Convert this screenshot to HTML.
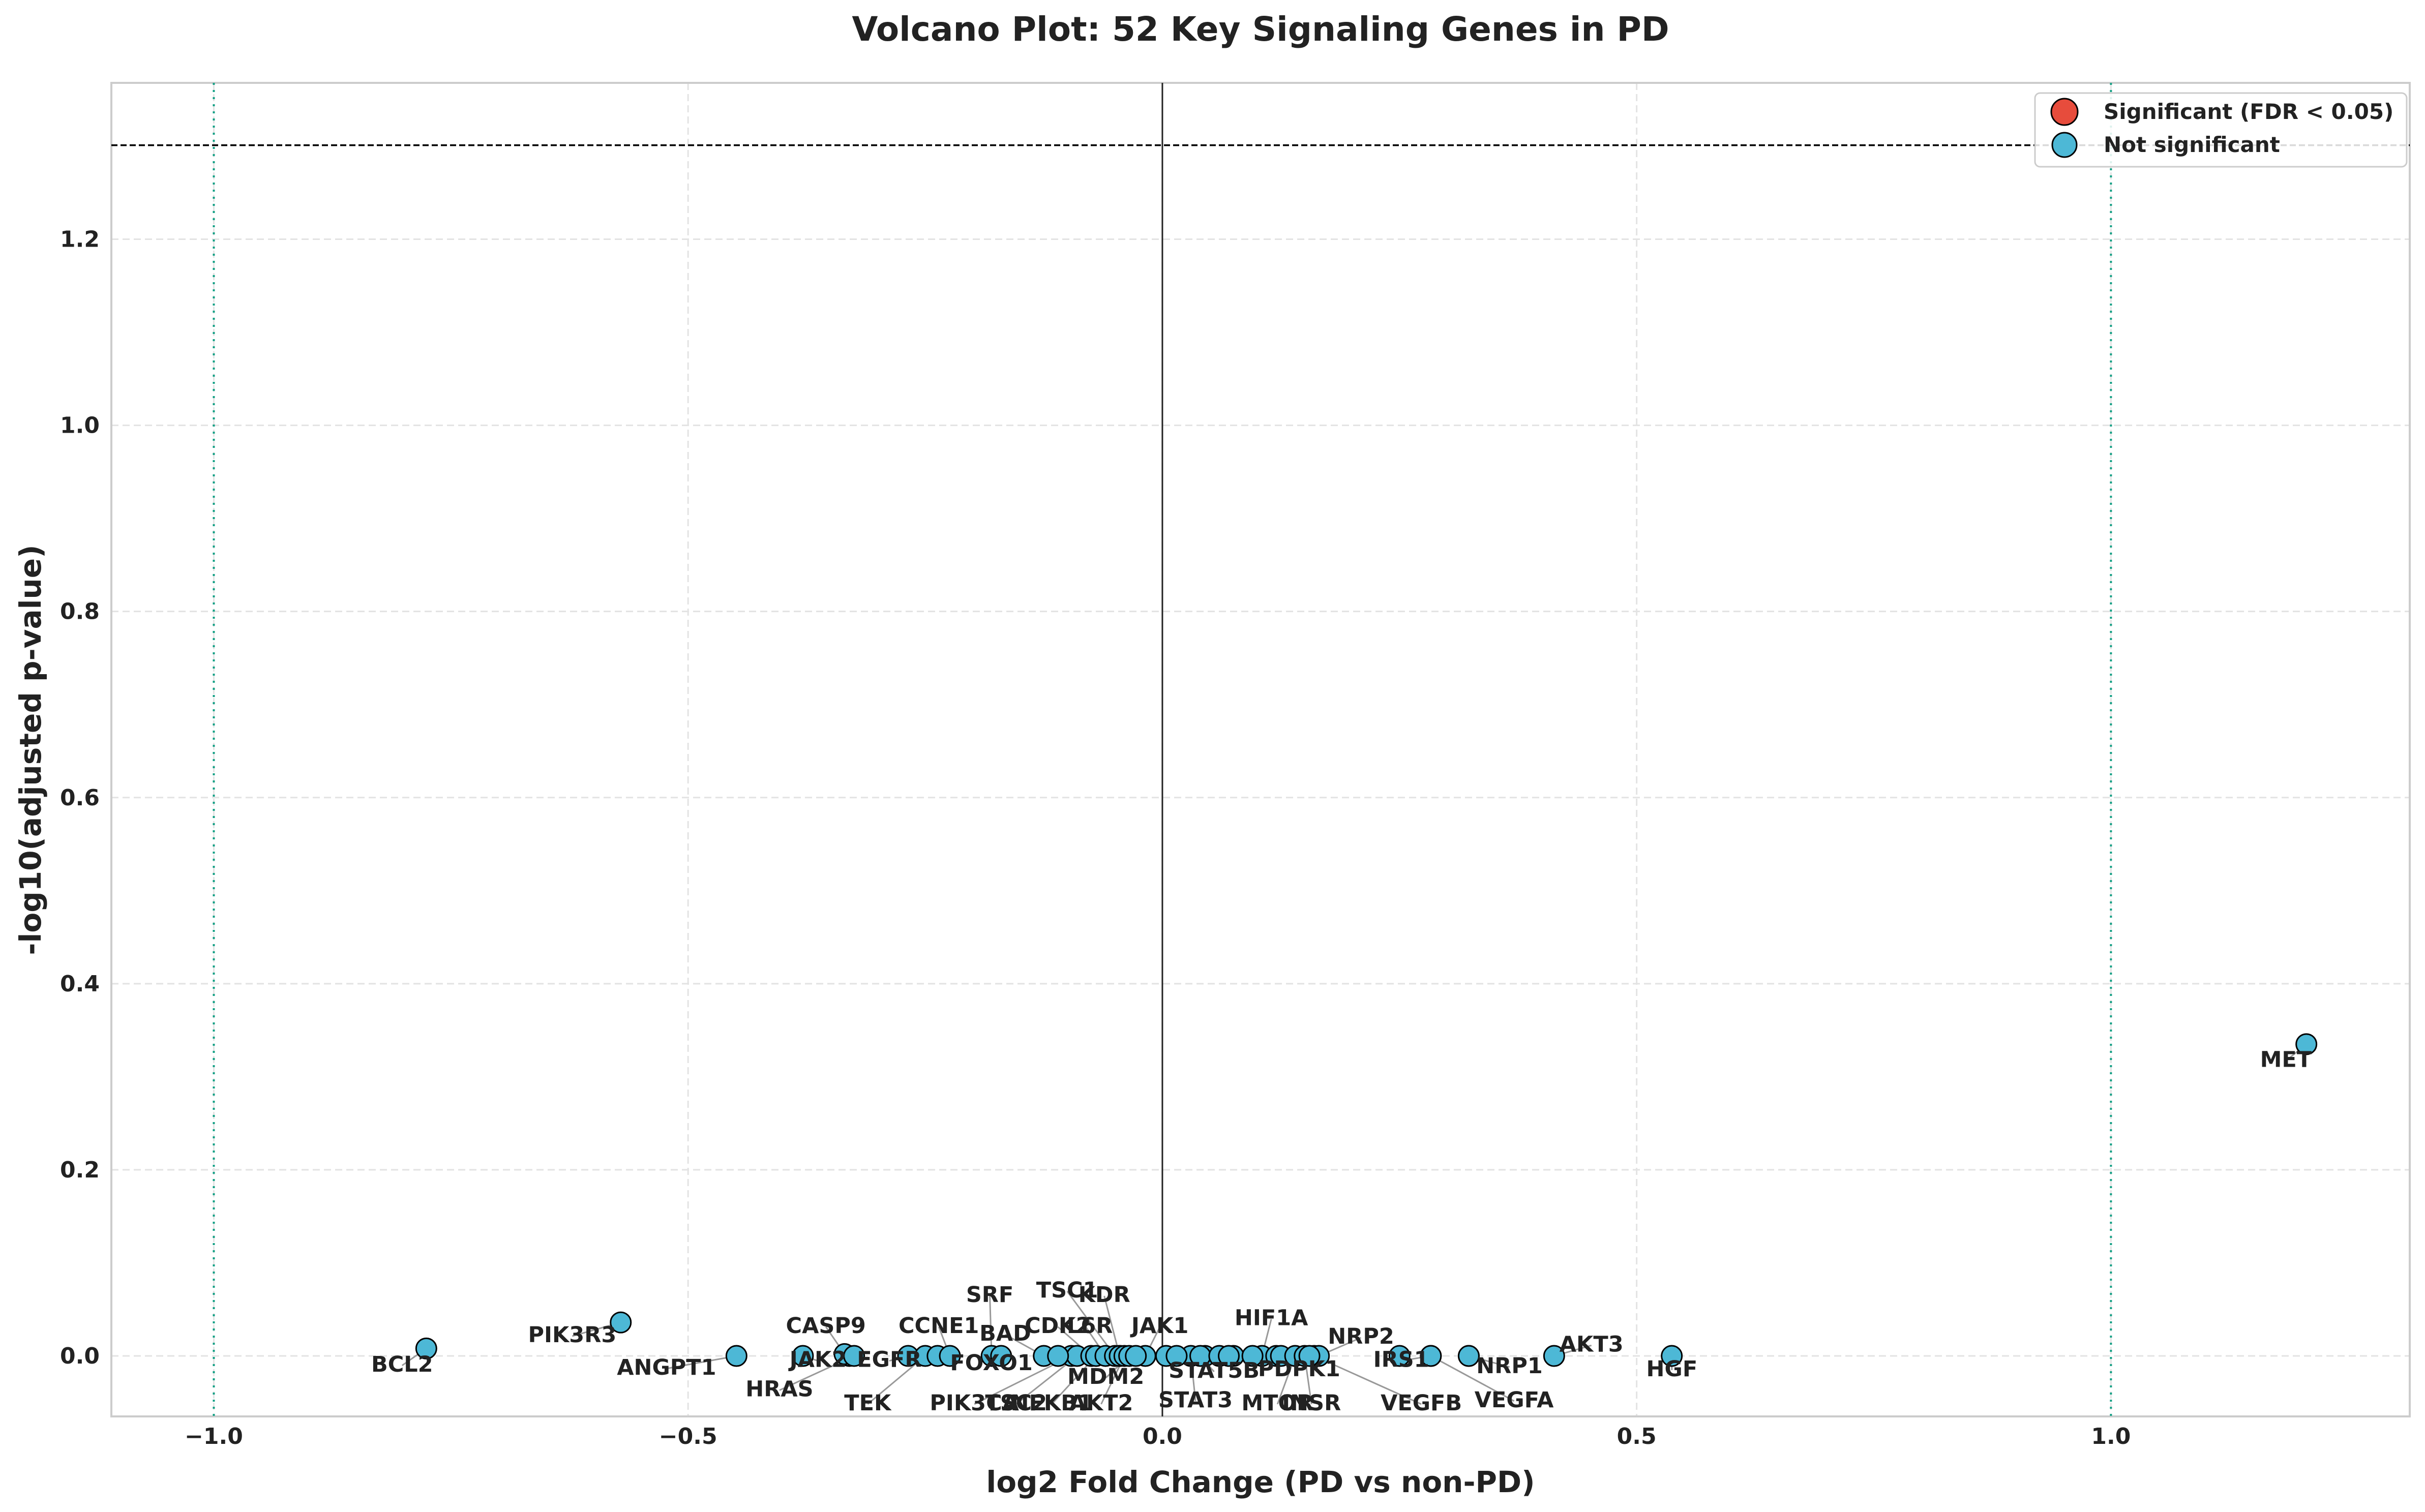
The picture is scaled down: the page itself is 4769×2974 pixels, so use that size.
<!DOCTYPE html>
<html><head><meta charset="utf-8"><style>
html,body{margin:0;padding:0;background:#fff;}
svg{display:block;font-family:"DejaVu Sans","Liberation Sans",sans-serif;}
</style></head><body>
<svg id="chart" width="4769" height="2974" viewBox="0 0 4769 2974" xmlns="http://www.w3.org/2000/svg">
<rect width="4769" height="2974" fill="#fff"/>
<text x="2479" y="80" text-anchor="middle" font-size="66" font-weight="bold" fill="#222">Volcano Plot: 52 Key Signaling Genes in PD</text>
<g id="grid"></g><g id="axes"></g><g id="links"></g><g id="points"></g><g id="labels"></g>
<text x="2479" y="2935" text-anchor="middle" font-size="58" font-weight="bold" fill="#222">log2 Fold Change (PD vs non-PD)</text>
<text transform="translate(80,1475) rotate(-90)" text-anchor="middle" font-size="58" font-weight="bold" fill="#222">-log10(adjusted p-value)</text>
<g>
<rect x="4002" y="183" width="731" height="145" rx="10" fill="#fff" fill-opacity="0.85" stroke="#ccc" stroke-width="3"/>
<ellipse cx="4060" cy="220" rx="26" ry="26" fill="#e74c3c" stroke="#000" stroke-width="3"/>
<text x="4137" y="234" font-size="42" font-weight="bold" fill="#222">Significant (FDR &lt; 0.05)</text>
<ellipse cx="4060" cy="285" rx="24" ry="24" fill="#4db8d6" stroke="#000" stroke-width="3"/>
<text x="4137" y="299" font-size="42" font-weight="bold" fill="#222">Not significant</text>
</g>
</svg>
<script>
const genes=["BCL2","PIK3R3","ANGPT1","JAK2","PIK3CD","CASP9","HRAS","EGFR","TEK","STAT5A","CCNE1","SRF","FOXO1","BAD","PIK3CA","TSC2","CDK2","NFKB1","IL6R","TSC1","E2F1","KDR","AKT2","MDM2","JAK1","CHUK","STAT3","EIF4EBP1","STAT5B","PTEN","KRAS","HIF1A","MAPK1","PDPK1","MTOR","INSR","VEGFB","NRP2","RHEB","IRS1","VEGFA","CDKN1B","NRP1","AKT3","HGF","MET","MAPK3","RPS6KB1","FLT1","PIK3CB","RAF1","SOS1"];
const log2fc=[-0.776,-0.571,-0.449,-0.379,-0.330,-0.335,-0.325,-0.268,-0.250,-0.237,-0.224,-0.180,-0.170,-0.125,-0.096,-0.090,-0.075,-0.070,-0.060,-0.050,-0.045,-0.045,-0.040,-0.035,-0.018,0.004,0.030,0.045,0.040,0.060,0.075,0.105,0.120,0.125,0.140,0.150,0.160,0.165,0.250,0.283,0.283,0.323,0.323,0.413,0.537,1.206,0.095,0.155,-0.110,-0.028,0.015,0.070];
const negLogP=[0.008,0.036,0.000,0.000,0.000,0.002,0.000,0.000,0.000,0.000,0.000,0.000,0.000,0.000,0.000,0.000,0.000,0.000,0.000,0.000,0.000,0.000,0.000,0.000,0.000,0.000,0.000,0.000,0.000,0.000,0.000,0.000,0.000,0.000,0.000,0.000,0.000,0.000,0.000,0.000,0.000,0.000,0.000,0.000,0.000,0.335,0.000,0.000,0.000,0.000,0.000,0.000];
const xTicks=[-1.0,-0.5,0.0,0.5,1.0];
const yTicks=[0.0,0.2,0.4,0.6,0.8,1.0,1.2];
const fdrLine=1.301;
// label layout offsets (display px, not data)
const labelAt={BCL2:[260,887],PIK3R3:[370,868],ANGPT1:[431,889],JAK2:[529,884],CASP9:[534,862],HRAS:[504,903],EGFR:[575,884],TEK:[561,912],CCNE1:[607,862],SRF:[640,842],FOXO1:[641,886],BAD:[650,867],PIK3CA:[630,912],TSC2:[657,912],NFKB1:[680,912],CDK2:[684,862],IL6R:[702,862],TSC1:[690,839],KDR:[714,842],MDM2:[715,895],AKT2:[712,912],JAK1:[750,862],STAT5B:[785,891],STAT3:[773,910],HIF1A:[822,857],PDPK1:[840,890],MTOR:[826,912],INSR:[848,912],NRP2:[880,869],TGFA:[927,850],IRS1:[906,884],VEGFB:[919,912],NRP1:[976,888],VEGFA:[979,910],AKT3:[1029,874],HGF:[1081,890],MET:[1478,690]};
const S=3.0415;
const X0=219,X1=4739,Y0=163,Y1=2786;
const xmin=-1.108,xmax=1.315,ymin=-0.065,ymax=1.368;
const xs=v=>X0+(v-xmin)/(xmax-xmin)*(X1-X0);
const ys=v=>Y1-(v-ymin)/(ymax-ymin)*(Y1-Y0);
const NS="http://www.w3.org/2000/svg";
function mk(t,a,p){const e=document.createElementNS(NS,t);for(const k in a)e.setAttribute(k,a[k]);p.appendChild(e);return e;}
const grid=document.getElementById('grid'),axes=document.getElementById('axes');
xTicks.forEach(t=>{
 const l=mk('line',{x1:xs(t),x2:xs(t),y1:Y0,y2:Y1,stroke:'#e3e3e3','stroke-width':3,'stroke-dasharray':'14,8'},grid);
 
 
 const tx=mk('text',{x:xs(t),y:2840,'text-anchor':'middle','font-size':44,'font-weight':'bold',fill:'#222'},axes);
 tx.textContent=t.toFixed(1).replace('-','\u2212');
 
 
});
yTicks.forEach(t=>{
 const l=mk('line',{x1:X0,x2:X1,y1:ys(t),y2:ys(t),stroke:'#e3e3e3','stroke-width':3,'stroke-dasharray':'14,8'},grid);
 
 
 const tx=mk('text',{x:196,y:ys(t)+15,'text-anchor':'end','font-size':44,'font-weight':'bold',fill:'#222'},axes);
 tx.textContent=t.toFixed(1);
 
 
});
let fr=mk('rect',{x:X0,y:Y0,width:X1-X0,height:Y1-Y0,fill:'none',stroke:'#ccc','stroke-width':4},axes);


let th=mk('line',{x1:X0,x2:X1,y1:ys(fdrLine),y2:ys(fdrLine),stroke:'#000','stroke-width':3.5,'stroke-dasharray':'12,6'},axes);


[-1,1].forEach(v=>{
 const l=mk('line',{x1:xs(v),x2:xs(v),y1:Y0,y2:Y1,stroke:'#16a085','stroke-width':4,'stroke-dasharray':'4,10'},axes);
 
 
});
let zl=mk('line',{x1:xs(0),x2:xs(0),y1:Y0,y2:Y1,stroke:'#222','stroke-width':3},axes);


const links=document.getElementById('links'),pts=document.getElementById('points'),labs=document.getElementById('labels');
genes.forEach((g,i)=>{
 const cx=xs(log2fc[i]),cy=ys(negLogP[i]);
 const sig=negLogP[i]>fdrLine;
 const c=mk('circle',{cx:cx,cy:cy,r:20,fill:sig?'#e74c3c':'#4db8d6',stroke:'#000','stroke-width':3},pts);
 
 
 const la=labelAt[g];
 if(la){
  const lx=la[0]*S,ly=la[1]*S;
  const ln=mk('line',{x1:cx,y1:cy,x2:lx,y2:ly-12,stroke:'#999','stroke-width':3},links);
  
  
  const t=mk('text',{x:lx,y:ly,'text-anchor':'middle','font-size':43,'font-weight':'bold',fill:'#222'},labs);
  t.textContent=g;
  
  
 }
});
</script>
</body></html>
